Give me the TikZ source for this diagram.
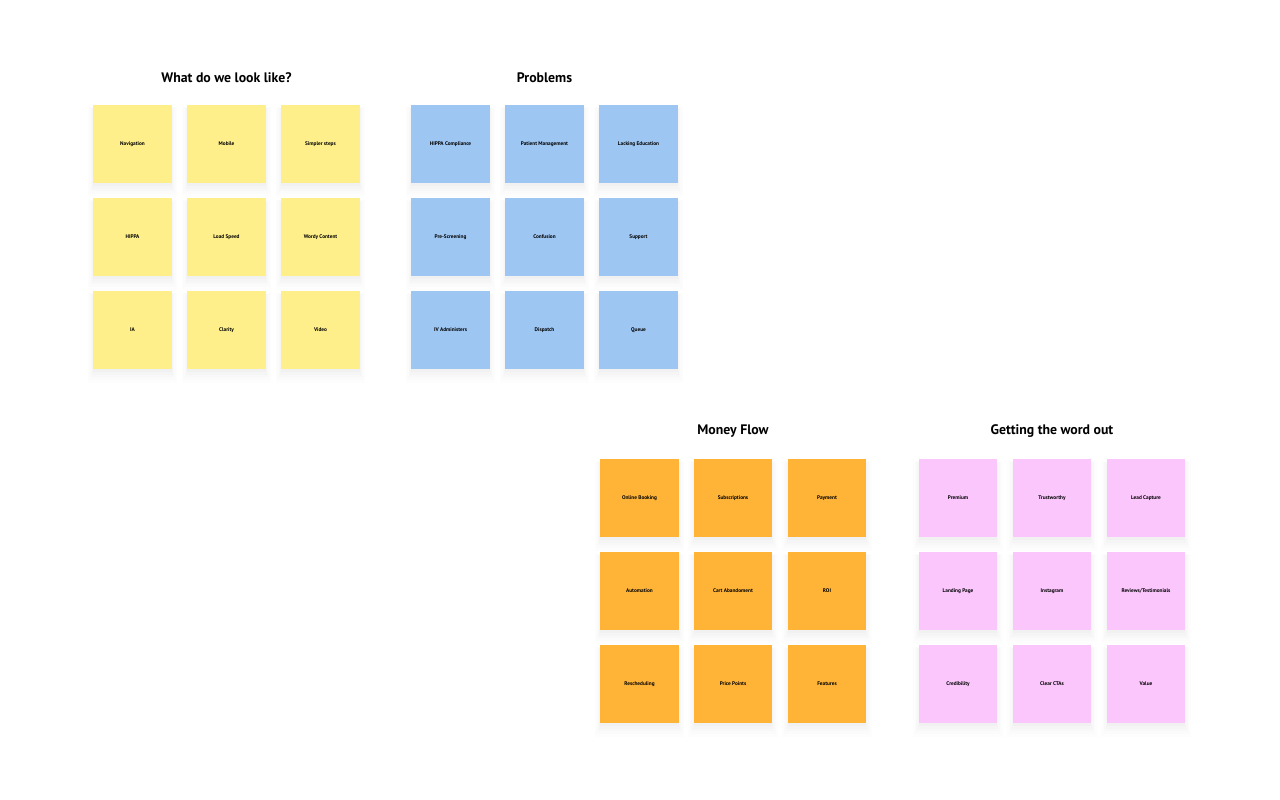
\documentclass[tikz,border=0pt]{standalone}
\usepackage{fontspec}
\setmainfont{PT Sans}
\usetikzlibrary{shadows}
\definecolor{stickyyellow}{RGB}{254,239,138}
\definecolor{stickyblue}{RGB}{158,198,242}
\definecolor{stickyorange}{RGB}{255,180,56}
\definecolor{stickypink}{RGB}{250,198,252}
\tikzset{
  sticky/.style={rectangle, minimum size=78.5pt, inner sep=0pt, align=center,
    font=\fontsize{5.3}{6}\selectfont\bfseries,
    drop shadow={shadow xshift=0pt, shadow yshift=-7pt, shadow scale=1.14, opacity=.012},
    drop shadow={shadow xshift=0pt, shadow yshift=-6pt, shadow scale=1.10, opacity=.015},
    drop shadow={shadow xshift=0pt, shadow yshift=-5pt, shadow scale=1.06, opacity=.02},
    drop shadow={shadow xshift=0pt, shadow yshift=-4pt, shadow scale=1.03, opacity=.025},
    drop shadow={shadow xshift=0pt, shadow yshift=-3pt, shadow scale=1.0, opacity=.03}},
  yellowsticky/.style={sticky, fill=stickyyellow},
  bluesticky/.style={sticky, fill=stickyblue},
  orangesticky/.style={sticky, fill=stickyorange},
  pinksticky/.style={sticky, fill=stickypink},
  boardtitle/.style={font=\fontsize{13.8}{16}\selectfont\bfseries}
}
\begin{document}
\begin{tikzpicture}[x=1pt, y=-1pt]
  \useasboundingbox[fill=white] (0,0) rectangle (1280,800);

  % Titoli
  \node[boardtitle] (tlook) at (226.5, 77.5) {What do we look like?};
  \node[boardtitle] (tprob) at (544.5, 77.5) {Problems};
  \node[boardtitle] (tmoney) at (733, 431.5) {Money Flow};
  \node[boardtitle] (tword) at (1052, 431.5) {Getting the word out};

  % Gialli
  \node[yellowsticky] (y1) at (132.5, 144) {Navigation};
  \node[yellowsticky] (y2) at (226.5, 144) {Mobile};
  \node[yellowsticky] (y3) at (320.5, 144) {Simpler steps};
  \node[yellowsticky] (y4) at (132.5, 237) {HIPPA};
  \node[yellowsticky] (y5) at (226.5, 237) {Load Speed};
  \node[yellowsticky] (y6) at (320.5, 237) {Wordy Content};
  \node[yellowsticky] (y7) at (132.5, 330) {IA};
  \node[yellowsticky] (y8) at (226.5, 330) {Clarity};
  \node[yellowsticky] (y9) at (320.5, 330) {Video};

  % Blu
  \node[bluesticky] (b1) at (450.5, 144) {HIPPA Compliance};
  \node[bluesticky] (b2) at (544.5, 144) {Patient Management};
  \node[bluesticky] (b3) at (638.5, 144) {Lacking Education};
  \node[bluesticky] (b4) at (450.5, 237) {Pre-Screening};
  \node[bluesticky] (b5) at (544.5, 237) {Confusion};
  \node[bluesticky] (b6) at (638.5, 237) {Support};
  \node[bluesticky] (b7) at (450.5, 330) {IV Administers};
  \node[bluesticky] (b8) at (544.5, 330) {Dispatch};
  \node[bluesticky] (b9) at (638.5, 330) {Queue};

  % Arancioni
  \node[orangesticky] (o1) at (639.5, 498) {Online Booking};
  \node[orangesticky] (o2) at (733, 498) {Subscriptions};
  \node[orangesticky] (o3) at (827, 498) {Payment};
  \node[orangesticky] (o4) at (639.5, 591) {Automation};
  \node[orangesticky] (o5) at (733, 591) {Cart Abandoment};
  \node[orangesticky] (o6) at (827, 591) {ROI};
  \node[orangesticky] (o7) at (639.5, 684) {Rescheduling};
  \node[orangesticky] (o8) at (733, 684) {Price Points};
  \node[orangesticky] (o9) at (827, 684) {Features};

  % Rosa
  \node[pinksticky] (p1) at (958, 498) {Premium};
  \node[pinksticky] (p2) at (1052, 498) {Trustworthy};
  \node[pinksticky] (p3) at (1146, 498) {Lead Capture};
  \node[pinksticky] (p4) at (958, 591) {Landing Page};
  \node[pinksticky] (p5) at (1052, 591) {Instagram};
  \node[pinksticky] (p6) at (1146, 591) {Reviews/Testimonials};
  \node[pinksticky] (p7) at (958, 684) {Credibility};
  \node[pinksticky] (p8) at (1052, 684) {Clear CTAs};
  \node[pinksticky] (p9) at (1146, 684) {Value};
\end{tikzpicture}
\end{document}
